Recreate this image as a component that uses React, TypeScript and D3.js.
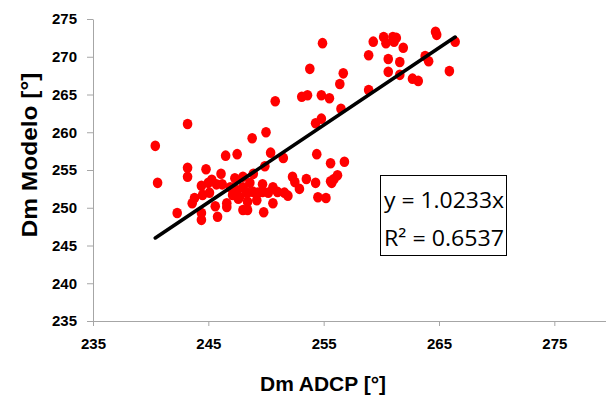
import { useEffect, useRef } from 'react'
import * as d3 from 'd3'

// Dm ADCP (x) vs Dm Modelo (y)
const ADCP = [
  254.9, 253.8, 256.7, 256.4, 253.1, 253.6, 254.8, 255.5, 250.8, 256.5,
  258.9, 258.9, 259.3, 260.2, 260.4, 261.0, 261.3, 261.1, 261.9, 260.6,
  261.6, 260.6, 261.6, 262.7, 263.2, 263.8, 264.1, 264.7, 264.8, 266.4,
  265.9, 243.2, 240.4, 250.0, 248.8, 254.3, 254.8, 246.5, 247.5, 250.4,
  251.5, 254.4, 255.6, 256.8, 243.2, 244.8, 249.9, 243.2, 246.1, 240.6,
  244.4, 245.0, 245.3, 245.7, 246.2, 247.3, 248.0, 248.9, 252.3, 252.5,
  253.5, 254.3, 255.6, 255.9, 256.2, 255.7, 252.9, 254.5, 255.2, 246.9,
  247.5, 248.0, 248.6, 249.7, 250.6, 247.1, 247.7, 248.4, 248.9, 249.3,
  249.7, 250.2, 251.0, 251.6, 251.9, 243.8, 244.5, 245.1, 243.6, 245.6,
  246.6, 246.6, 248.0, 248.4, 249.2, 250.6, 242.3, 244.4, 244.4, 245.8,
  249.8, 247.6, 248.4, 248.3,
]
const MODELO = [
  271.8, 268.4, 267.8, 266.4, 264.7, 264.9, 264.9, 264.5, 264.1, 263.1,
  265.6, 270.2, 272.0, 272.6, 271.8, 272.6, 272.5, 272.0, 271.2, 269.7,
  269.3, 268.0, 267.6, 267.1, 266.8, 270.1, 269.4, 273.3, 272.9, 272.0,
  268.1, 261.1, 258.2, 260.0, 259.2, 261.2, 261.8, 256.9, 257.1, 257.3,
  256.6, 257.1, 255.9, 256.1, 255.3, 255.1, 255.5, 254.1, 254.5, 253.3,
  252.9, 253.3, 253.7, 253.1, 253.1, 253.9, 254.1, 254.5, 254.1, 253.4,
  253.8, 253.3, 253.5, 253.8, 254.3, 253.3, 252.5, 251.4, 251.3, 252.7,
  252.3, 252.7, 253.3, 253.1, 252.7, 251.7, 251.4, 252.0, 252.1, 252.0,
  252.1, 252.0, 252.1, 252.0, 251.6, 251.3, 251.7, 252.0, 250.6, 250.2,
  250.1, 250.6, 249.7, 249.7, 251.0, 250.6, 249.3, 249.3, 248.4, 248.8,
  249.4, 251.2, 250.8, 252.0,
]

const X_TICKS = [235, 245, 255, 265, 275]
const Y_TICKS = [235, 240, 245, 250, 255, 260, 265, 270, 275]
const SLOPE = 1.0233
const FIT_RANGE = [240.4, 266.4]
const EQ_LINES = ['y = 1.0233x', 'R² = 0.6537']

const AXIS_COLOR = '#a6a6a6'
const LABEL_FONT = "'Liberation Sans', Arial, sans-serif"

export default function App() {
  const svgRef = useRef<SVGSVGElement>(null)

  useEffect(() => {
    if (!svgRef.current) return
    const W = 606, H = 404
    const svg = d3.select(svgRef.current)
    svg.selectAll('*').remove()
    svg.attr('width', W).attr('height', H)

    const x = d3.scaleLinear().domain([235, 280]).range([93, 612])
    const y = d3.scaleLinear().domain([235, 275]).range([321, 19])

    // axes
    svg.append('g')
      .attr('transform', `translate(0,${y(235)})`)
      .call(d3.axisBottom(x).tickValues(X_TICKS).tickSize(5).tickSizeOuter(0).tickFormat(d3.format('d')))
      .call(ax => ax.select('.domain').attr('stroke', AXIS_COLOR))
      .call(ax => ax.selectAll('line').attr('stroke', AXIS_COLOR))
      .call(ax => ax.selectAll('text')
        .attr('fill', '#000').attr('font-size', '15px').attr('font-weight', 'bold')
        .attr('font-family', LABEL_FONT).attr('dy', '1.35em'))

    svg.append('g')
      .attr('transform', `translate(${x(235)},0)`)
      .call(d3.axisLeft(y).tickValues(Y_TICKS).tickSize(6).tickSizeOuter(0).tickFormat(d3.format('d')))
      .call(ax => ax.select('.domain').attr('stroke', AXIS_COLOR))
      .call(ax => ax.selectAll('line').attr('stroke', AXIS_COLOR))
      .call(ax => ax.selectAll('text')
        .attr('fill', '#000').attr('font-size', '15px').attr('font-weight', 'bold')
        .attr('font-family', LABEL_FONT).attr('x', -16))

    // points
    const pts = ADCP.map((a, i) => [a, MODELO[i]])
    svg.append('g')
      .selectAll('ellipse')
      .data(pts)
      .enter().append('ellipse')
      .attr('cx', d => x(d[0]))
      .attr('cy', d => y(d[1]))
      .attr('rx', 4.8)
      .attr('ry', 5.3)
      .attr('fill', '#ff0000')

    // trend line
    const line = d3.line<number>().x(d => x(d)).y(d => y(SLOPE * d))
    svg.append('path')
      .attr('d', line(FIT_RANGE))
      .attr('stroke', '#000')
      .attr('stroke-width', 3.6)
      .attr('stroke-linecap', 'round')
      .attr('fill', 'none')

    // equation box
    const box = svg.append('g')
    box.append('rect')
      .attr('x', 380.5).attr('y', 175.5).attr('width', 126).attr('height', 80)
      .attr('fill', '#fff').attr('stroke', '#000').attr('stroke-width', 1)
    box.selectAll('text')
      .data(EQ_LINES)
      .enter().append('text')
      .attr('x', 384)
      .attr('y', (_, i) => 208 + i * 38)
      .attr('font-family', "'Open Sans', sans-serif")
      .attr('font-size', '22px')
      .attr('textLength', 120)
      .attr('lengthAdjust', 'spacingAndGlyphs')
      .text(d => d)

    // axis titles
    svg.append('text')
      .attr('x', 323).attr('y', 391)
      .attr('text-anchor', 'middle')
      .attr('font-family', LABEL_FONT)
      .attr('font-weight', 'bold').attr('font-size', '20px')
      .attr('textLength', 126).attr('lengthAdjust', 'spacingAndGlyphs')
      .text('Dm ADCP [°]')

    svg.append('text')
      .attr('transform', 'translate(37,155) rotate(-90)')
      .attr('text-anchor', 'middle')
      .attr('font-family', LABEL_FONT)
      .attr('font-weight', 'bold').attr('font-size', '22px')
      .attr('textLength', 165).attr('lengthAdjust', 'spacingAndGlyphs')
      .text('Dm Modelo [°]')
  }, [])

  return (
    <div style={{ position: 'absolute', left: 0, top: 0, background: '#fff' }}>
      <svg ref={svgRef} style={{ display: 'block' }} />
    </div>
  )
}
